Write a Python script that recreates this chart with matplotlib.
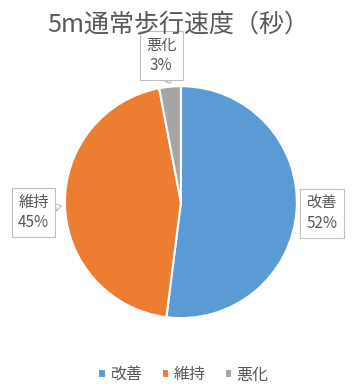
import numpy as np
import matplotlib
matplotlib.use("Agg")
import matplotlib.pyplot as plt

plt.rcParams['font.family'] = ['Noto Sans CJK JP', 'DejaVu Sans']

# データ
labels = ['改善', '維持', '悪化']
values = [52, 45, 3]
colors = ['#5B9BD5', '#ED7D31', '#A5A5A5']
title = '5m通常歩行速度（秒）'

fig = plt.figure(figsize=(3.53, 3.88), dpi=100)
ax = fig.add_axes([0.184, 0.180, 0.657, 0.598])

wedges, _ = ax.pie(values, colors=colors, startangle=90, counterclock=False,
                   wedgeprops=dict(edgecolor='white', linewidth=1.5))
ax.set_aspect('equal')
ax.set_xlim(-1, 1)
ax.set_ylim(-1, 1)

# データラベル(吹き出し)
radii = [1.22, 1.27, 1.27]
shift = [(0, -0.02), (0, -0.05), (-0.05, 0)]
for w, lab, v, r, (dx, dy) in zip(wedges, labels, values, radii, shift):
    ang = np.deg2rad((w.theta1 + w.theta2) / 2)
    x, y = r * np.cos(ang) + dx, r * np.sin(ang) + dy
    ax.annotate(f'{lab}\n{v}%', xy=(1.03 * np.cos(ang), 1.03 * np.sin(ang)),
                xytext=(x, y), ha='center', va='center', fontsize=11,
                color='#595959', linespacing=1.25, annotation_clip=False,
                bbox=dict(boxstyle='square,pad=0.4', fc='white', ec='#BFBFBF', lw=0.8),
                arrowprops=dict(arrowstyle='wedge,tail_width=0.5,shrink_factor=0.5',
                                fc='white', ec='#BFBFBF', lw=0.8, shrinkA=0, shrinkB=0))

fig.text(0.505, 0.936, title, ha='center', va='center', fontsize=18, color='#595959')

fig.legend(wedges, labels, loc='center', bbox_to_anchor=(0.52, 0.034), ncol=3,
           frameon=False, fontsize=11.5, labelcolor='#595959', handlelength=0.45,
           handleheight=0.45, handletextpad=0.3, columnspacing=1.2)

fig.savefig('out.png', dpi=100)
